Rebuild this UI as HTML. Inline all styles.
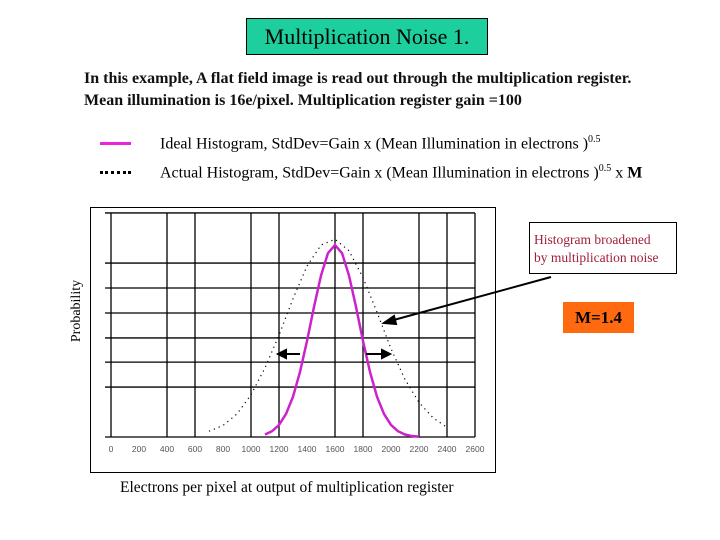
<!DOCTYPE html>
<html><head><meta charset="utf-8"><style>
body{margin:0;width:720px;height:540px;background:#fff;overflow:hidden;font-family:"Liberation Serif",serif;}
.abs{position:absolute;white-space:nowrap;}
</style></head><body>
<div style="position:relative;width:720px;height:540px;">
<div class="abs" style="left:246px;top:18px;width:240px;height:35px;background:#1ccf9c;border:1px solid #000;font-size:22px;line-height:36px;text-align:center;color:#000;">Multiplication Noise 1.</div>
<div class="abs" style="left:84px;top:68px;font-size:16px;line-height:22px;font-weight:bold;color:#111;">In this example, A flat field image is read out through the multiplication register.<br>Mean illumination is 16e/pixel. Multiplication register gain =100</div>
<div class="abs" style="left:100px;top:142px;width:31px;height:3px;background:#ee22dd;"></div>
<div class="abs" style="left:160px;top:134px;font-size:16px;">Ideal Histogram, StdDev=Gain x (Mean Illumination in electrons )<sup style="font-size:10px">0.5</sup></div>
<div class="abs" style="left:100px;top:171px;width:31px;height:0;border-top:3px dotted #000;"></div>
<div class="abs" style="left:160px;top:163px;font-size:16px;">Actual Histogram, StdDev=Gain x (Mean Illumination in electrons )<sup style="font-size:10px">0.5</sup> x <b style="font-size:16px">M</b></div>
<div class="abs" style="left:40px;top:303px;width:74px;font-size:14px;transform:rotate(-90deg);text-align:center;">Probability</div>
<div class="abs" style="left:120px;top:479px;font-size:15.5px;">Electrons per pixel at output of multiplication register</div>
<div class="abs" style="left:529px;top:222px;width:148px;height:52px;border:1px solid #000;color:#a0203a;font-size:13.5px;line-height:18px;padding:8px 0 0 4px;box-sizing:border-box;">Histogram broadened<br>by multiplication noise</div>
<div class="abs" style="left:563px;top:302px;width:71px;height:31px;background:#ff6a10;font-size:17px;font-weight:bold;line-height:32px;text-align:center;">M=1.4</div>
<svg class="abs" style="left:0;top:0" width="720" height="540">
<rect x="90.5" y="207.5" width="405" height="265" fill="none" stroke="#000"/>
<g id="grid"></g><g id="series"></g>
<g stroke="#000" stroke-width="2" fill="#000">
<line x1="551" y1="277" x2="390" y2="321"/><polygon points="384,323 394,316 396,324" />
<line x1="300" y1="354" x2="284" y2="354"/><polygon points="278,354 286,350 286,358"/>
<line x1="366" y1="354" x2="384" y2="354"/><polygon points="390,354 382,350 382,358"/>
</g>
</svg>
</div>
<script>
const xTicks=[0,200,400,600,800,1000,1200,1400,1600,1800,2000,2200,2400,2600];
const xGrid=[0,400,600,1000,1200,1600,1800,2200,2400,2600];
const yGrid=[0,0.26,0.39,0.516,0.646,0.776,0.906,1.167];
const idealX=[1100,1150,1200,1250,1300,1350,1400,1450,1500,1550,1600,1650,1700,1750,1800,1850,1900,1950,2000,2050,2100,2150,2200];
const idealY=[0.013,0.03,0.063,0.12,0.21,0.339,0.5,0.678,0.841,0.958,1,0.958,0.841,0.678,0.5,0.339,0.21,0.12,0.063,0.03,0.013,0.005,0.002];
const actualX=[700,800,900,1000,1100,1200,1300,1400,1500,1600,1700,1800,1900,2000,2100,2200,2300,2400];
const actualY=[0.03,0.06,0.12,0.22,0.36,0.53,0.72,0.89,1.0,1.03,0.97,0.83,0.65,0.46,0.30,0.18,0.10,0.05];
const X=v=>111+v*0.14, Y=v=>437-v*192;
const NS='http://www.w3.org/2000/svg';
const grid=document.getElementById('grid'), ser=document.getElementById('series');
function mk(tag,attrs,parent){const e=document.createElementNS(NS,tag);for(const k in attrs)e.setAttribute(k,attrs[k]);parent.appendChild(e);return e;}
xGrid.forEach(v=>{const l=mk('line',{x1:X(v),x2:X(v),y1:213,y2:437,stroke:'#000','stroke-width':1.3},grid);

});
yGrid.forEach(v=>{const l=mk('line',{x1:105,x2:475,y1:Y(v),y2:Y(v),stroke:'#000','stroke-width':1.3},grid);

});
xTicks.forEach(v=>{const t=mk('text',{x:X(v),y:452,'font-size':8.5,'text-anchor':'middle',fill:'#555','font-family':'Liberation Sans, sans-serif'},grid);t.textContent=v;

});
const ip=mk('polyline',{points:idealX.map((x,i)=>X(x)+','+Y(idealY[i])).join(' '),fill:'none',stroke:'#cc22cc','stroke-width':2.5},ser);


const ap=mk('polyline',{points:actualX.map((x,i)=>X(x)+','+Y(actualY[i])).join(' '),fill:'none',stroke:'#000','stroke-width':1.2,'stroke-dasharray':'1.2 4'},ser);


</script>
</body></html>
